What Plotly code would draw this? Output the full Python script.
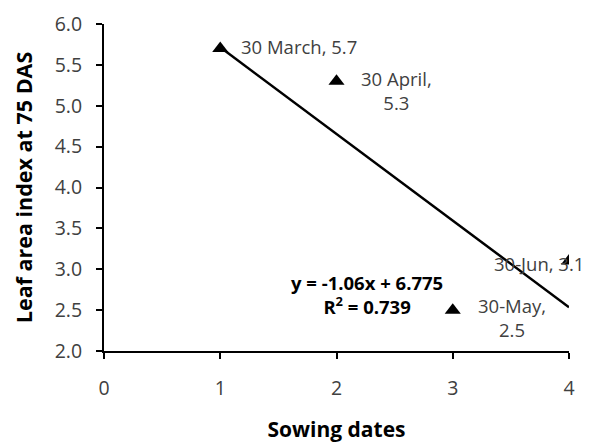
import plotly.graph_objects as go

# Sowing date index and leaf area index at 75 DAS
sowing_index = [1, 2, 3, 4]
lai_values = [5.7, 5.3, 2.5, 3.1]
point_labels = ["30 March, 5.7", "30 April,<br>5.3", "30-May,<br>2.5", "30-Jun, 3.1"]

# Linear trend: y = slope * x + intercept
slope = -1.06
intercept = 6.775
r_squared = 0.739

x_ticks = [0, 1, 2, 3, 4]
y_ticks = [2.0, 2.5, 3.0, 3.5, 4.0, 4.5, 5.0, 5.5, 6.0]

FONT = "Open Sans"
TICK_COLOR = "#404040"

trend_x = [sowing_index[0], sowing_index[-1]]
trend_y = [slope * x + intercept for x in trend_x]

fig = go.Figure()
fig.add_trace(go.Scatter(
    x=trend_x, y=trend_y, mode="lines",
    line=dict(color="black", width=2.5), hoverinfo="skip",
))
fig.add_trace(go.Scatter(
    x=sowing_index, y=lai_values, mode="markers",
    marker=dict(symbol="triangle-up", size=14, color="black"),
))

# point labels: (pixel offset x, pixel offset y, horizontal anchor)
label_offsets = [(19, -2, "left"), (60, 9, "center"), (59, 7, "center"), (-30, 2, "center")]
for x, y, text, (dx, dy, anchor) in zip(sowing_index, lai_values, point_labels, label_offsets):
    fig.add_annotation(
        x=x, y=y, text=text, showarrow=True, arrowcolor="rgba(0,0,0,0)",
        ax=dx, ay=dy, xanchor=anchor, yanchor="middle",
        font=dict(family=FONT, size=18.5, color=TICK_COLOR), align="center",
    )

fig.add_annotation(
    x=2.26, y=2.69, xref="x", yref="y",
    text=f"<b>y = {slope}x + {intercept}<br>R<sup>2</sup> = {r_squared}</b>",
    showarrow=False, xanchor="center", yanchor="middle",
    font=dict(family=FONT, size=18.5, color="black"), align="center",
)

fig.update_layout(
    width=596, height=443,
    margin=dict(l=104, r=27, t=24, b=92, autoexpand=False),
    plot_bgcolor="white", paper_bgcolor="white",
    showlegend=False,
    font=dict(family=FONT),
)
fig.update_xaxes(
    range=[0, 4], tickvals=x_ticks, ticktext=[str(v) for v in x_ticks],
    showgrid=False, zeroline=False, showline=True, linecolor="black", linewidth=2,
    ticks="outside", ticklen=6, tickwidth=2, tickcolor="black",
    ticklabelstandoff=13, automargin=False,
    tickfont=dict(family=FONT, size=19.5, color=TICK_COLOR),
    title=dict(text="<b>Sowing dates</b>", font=dict(family=FONT, size=21, color="black"),
               standoff=32),
)
fig.update_yaxes(
    range=[2, 6], tickvals=y_ticks, ticktext=[f"{v:.1f}" for v in y_ticks],
    showgrid=False, zeroline=False, showline=True, linecolor="black", linewidth=2,
    ticks="outside", ticklen=6, tickwidth=2, tickcolor="black",
    ticklabelstandoff=10, automargin=False,
    tickfont=dict(family=FONT, size=19.5, color=TICK_COLOR),
    title=dict(text="<b>Leaf area index at 75 DAS</b>",
               font=dict(family=FONT, size=21.5, color="black"), standoff=16),
)

fig.write_html("out.html")
